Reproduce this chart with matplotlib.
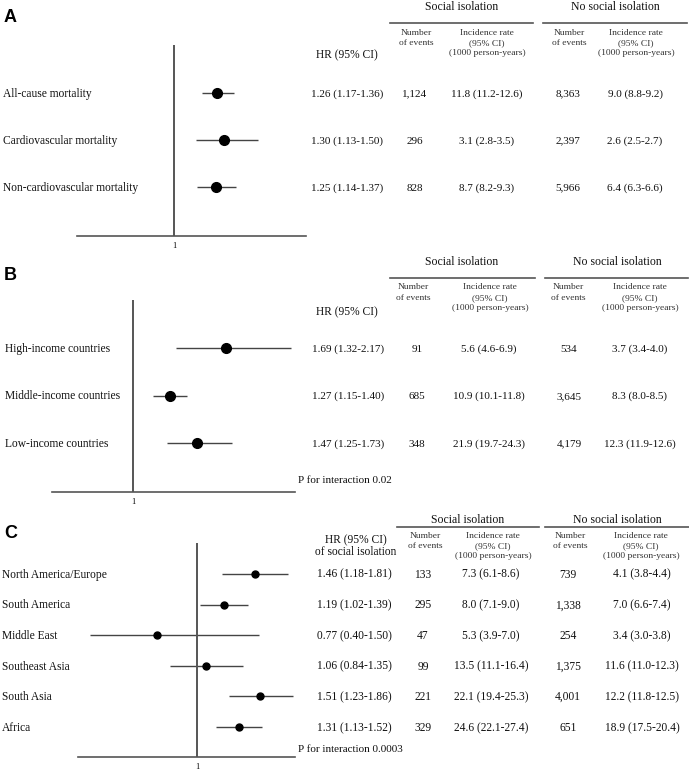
import matplotlib
matplotlib.use('Agg')
import matplotlib.pyplot as plt
import matplotlib.transforms as mtransforms
from matplotlib.lines import Line2D
import numpy as np

plt.rcParams['font.family'] = ['Liberation Serif', 'DejaVu Serif']

# panel A - outcomes
A_labels = ['All-cause mortality', 'Cardiovascular mortality', 'Non-cardiovascular mortality']
A_hr = [1.26, 1.30, 1.25]
A_lo = [1.17, 1.13, 1.14]
A_hi = [1.36, 1.50, 1.37]
A_si_events = ['1,124', '296', '828']
A_si_rate = ['11.8 (11.2-12.6)', '3.1 (2.8-3.5)', '8.7 (8.2-9.3)']
A_no_events = ['8,363', '2,397', '5,966']
A_no_rate = ['9.0 (8.8-9.2)', '2.6 (2.5-2.7)', '6.4 (6.3-6.6)']

# panel B - country income
B_labels = ['High-income countries', 'Middle-income countries', 'Low-income countries']
B_hr = [1.69, 1.27, 1.47]
B_lo = [1.32, 1.15, 1.25]
B_hi = [2.17, 1.40, 1.73]
B_si_events = ['91', '685', '348']
B_si_rate = ['5.6 (4.6-6.9)', '10.9 (10.1-11.8)', '21.9 (19.7-24.3)']
B_no_events = ['534', '3,645', '4,179']
B_no_rate = ['3.7 (3.4-4.0)', '8.3 (8.0-8.5)', '12.3 (11.9-12.6)']
B_p = 'P for interaction 0.02'

# panel C - regions
C_labels = ['North America/Europe', 'South America', 'Middle East',
            'Southeast Asia', 'South Asia', 'Africa']
C_hr = [1.46, 1.19, 0.77, 1.06, 1.51, 1.31]
C_lo = [1.18, 1.02, 0.40, 0.84, 1.23, 1.13]
C_hi = [1.81, 1.39, 1.50, 1.35, 1.86, 1.52]
C_si_events = ['133', '295', '47', '99', '221', '329']
C_si_rate = ['7.3 (6.1-8.6)', '8.0 (7.1-9.0)', '5.3 (3.9-7.0)',
             '13.5 (11.1-16.4)', '22.1 (19.4-25.3)', '24.6 (22.1-27.4)']
C_no_events = ['739', '1,338', '254', '1,375', '4,001', '651']
C_no_rate = ['4.1 (3.8-4.4)', '7.0 (6.6-7.4)', '3.4 (3.0-3.8)',
             '11.6 (11.0-12.3)', '12.2 (11.8-12.5)', '18.9 (17.5-20.4)']
C_p = 'P for interaction 0.0003'
C_ci_floor = 0.5  # lower CI shown only down to 0.5 in the original

W, H = 689, 771
fig = plt.figure(figsize=(W / 100, H / 100), dpi=100)

line_col = '#555555'
txt_col = '#111111'


def px_axes(left, top, right, bottom):
    return fig.add_axes([left / W, 1 - bottom / H, (right - left) / W, (bottom - top) / H])


def fx(px):
    return px / W


def fy(py):
    return 1 - py / H


def down(tr, fs):
    # shift so the text's cap-height middle sits on the anchor
    return mtransforms.offset_copy(tr, fig=fig, x=0, y=-0.33 * fs, units='points')


def forest(ax, hr, lo, hi, ms, xlim, ylim):
    n = len(hr)
    ys = np.arange(n, 0, -1)
    ax.hlines(ys, lo, hi, color='#444444', lw=1.0)
    ax.plot(hr, ys, 'o', color='black', ms=ms, zorder=3)
    ax.axvline(1, color=line_col, lw=1.4)
    ax.set_xlim(*xlim)
    ax.set_ylim(*ylim)
    for s in ['left', 'top', 'right']:
        ax.spines[s].set_visible(False)
    ax.spines['bottom'].set_color(line_col)
    ax.spines['bottom'].set_linewidth(1.2)
    ax.set_yticks([])
    ax.set_xticks([1])
    ax.set_xticklabels(['1'], fontsize=6)
    ax.xaxis.set_minor_locator(matplotlib.ticker.NullLocator())
    ax.tick_params(axis='x', length=0, pad=4)
    ax.patch.set_alpha(0)
    return ys


def table(ax, ys, labels, label_x, hr, lo, hi, ev1, rt1, ev2, rt2, cols, fs=8):
    tr = mtransforms.blended_transform_factory(fig.transFigure, ax.transData)
    for i, y in enumerate(ys):
        ax.text(fx(label_x), y, labels[i], transform=down(tr, 8.3), ha='left',
                va='baseline', fontsize=8.3, color=txt_col)
        hr_txt = f'{hr[i]:.2f} ({lo[i]:.2f}-{hi[i]:.2f})'
        vals = [hr_txt, ev1[i], rt1[i], ev2[i], rt2[i]]
        for cx, v in zip(cols, vals):
            ax.text(fx(cx), y, v, transform=down(tr, fs), ha='center', va='baseline',
                    fontsize=fs, color=txt_col)
    return tr


def ftext(px, py, s, fs, **kw):
    fig.text(fx(px), fy(py), s, transform=down(fig.transFigure, fs), va='baseline',
             fontsize=fs, **kw)


def header(y_group, y_line, sub_ys, sub_cols, group_cols, lines, hr_x, hr_lines, fs_sub=6.8):
    ftext(group_cols[0], y_group, 'Social isolation', 8.5, ha='center', color=txt_col)
    ftext(group_cols[1], y_group, 'No social isolation', 8.5, ha='center', color=txt_col)
    for x0, x1 in lines:
        fig.add_artist(Line2D([fx(x0), fx(x1)], [fy(y_line), fy(y_line)],
                              color=line_col, lw=1.2, transform=fig.transFigure))
    texts = [['Number', 'of events'], ['Incidence rate', '(95% CI)', '(1000 person-years)'],
             ['Number', 'of events'], ['Incidence rate', '(95% CI)', '(1000 person-years)']]
    for cx, t in zip(sub_cols, texts):
        for k, line in enumerate(t):
            ftext(cx, sub_ys[k], line, fs_sub, ha='center', color='#333333')
    for py, line in hr_lines:
        ftext(hr_x, py, line, 8.3, ha='center', color=txt_col)


# ---- panel A
fig.text(fx(4), fy(18), 'A', fontsize=13, fontweight='bold', family='Liberation Sans',
         ha='left', va='center')
axA = px_axes(77, 45, 306, 236)
ysA = forest(axA, A_hr, A_lo, A_hi, 7, (0.419, 1.790), (-0.04, 4.02))
table(axA, ysA, A_labels, 3, A_hr, A_lo, A_hi, A_si_events, A_si_rate,
      A_no_events, A_no_rate, [347, 415, 487, 568, 635])
header(6, 23, [32, 42, 52], [416, 487, 569, 636], [462, 615], [(390, 533), (543, 687)],
       347, [(54, 'HR (95% CI)')])

# ---- panel B
fig.text(fx(4), fy(275), 'B', fontsize=13, fontweight='bold', family='Liberation Sans',
         ha='left', va='center')
axB = px_axes(52, 300, 295, 492)
ysB = forest(axB, B_hr, B_lo, B_hi, 7, (0.402, 2.196), (-0.03, 4.01))
trB = table(axB, ysB, B_labels, 5, B_hr, B_lo, B_hi, B_si_events, B_si_rate,
            B_no_events, B_no_rate, [348, 417, 489, 569, 640])
axB.text(fx(298), 0.24, B_p, transform=down(trB, 8), ha='left', va='baseline',
         fontsize=8, color=txt_col)
header(261, 278, [286, 297, 307], [413, 490, 568, 640], [462, 617],
       [(390, 535), (545, 688)], 347, [(311, 'HR (95% CI)')])

# ---- panel C
fig.text(fx(4), fy(533), 'C', fontsize=13, fontweight='bold', family='Liberation Sans',
         ha='left', va='center')
axC = px_axes(78, 543, 295, 757)
axC.set_xscale('log')
C_lo_shown = np.clip(C_lo, C_ci_floor, None)
ysC = forest(axC, C_hr, C_lo_shown, C_hi, 5, (0.462, 1.889), (0.02, 7.01))
trC = table(axC, ysC, C_labels, 2, C_hr, C_lo, C_hi, C_si_events, C_si_rate,
            C_no_events, C_no_rate, [354, 423, 491, 568, 642], fs=8.3)
axC.text(fx(298), 0.31, C_p, transform=down(trC, 8), ha='left', va='baseline',
         fontsize=8, color=txt_col)
header(519, 527, [535, 545, 555], [425, 493, 570, 641], [468, 617],
       [(397, 539), (545, 690)], 356, [(539, 'HR (95% CI)'), (551, 'of social isolation')])

fig.savefig('out.png', dpi=100)
